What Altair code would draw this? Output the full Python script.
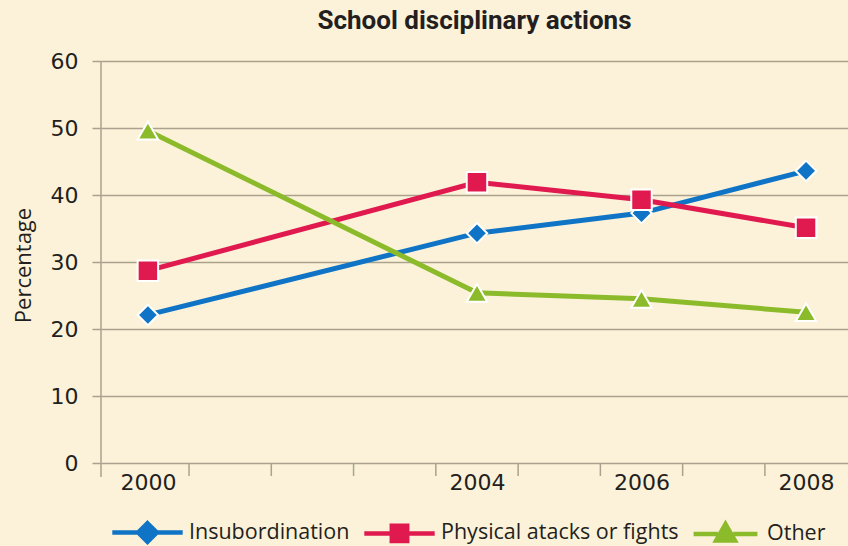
import altair as alt
import pandas as pd

# ---- data ----
years = [2000, 2004, 2006, 2008]
insubordination = [22.1, 34.3, 37.3, 43.6]
physical = [28.7, 41.9, 39.3, 35.1]
other = [49.6, 25.4, 24.5, 22.5]
series_names = ["Insubordination", "Physical atacks or fights", "Other"]
series_colors = ["#0f74c6", "#e01a4f", "#8bbb2a"]
series_shapes = ["diamond", "square", "triangle-up"]
y_tick_values = [0, 10, 20, 30, 40, 50, 60]
x_label_values = [2000, 2004, 2006, 2008]
x_tick_marks = [2000.5, 2001.5, 2002.5, 2003.5, 2004.5, 2005.5, 2006.5, 2007.5]

rows = []
for name, vals in zip(series_names, [insubordination, physical, other]):
    for yr, v in zip(years, vals):
        rows.append({"year": yr, "value": v, "series": name})
df = pd.DataFrame(rows)
ticks_df = pd.DataFrame({"year": x_tick_marks})
axis_df = pd.DataFrame({"year": [2000]})

W, H = 747, 402
BG = "#fcf2d9"
GRID = "#aaa28e"
TEXT = "#231f20"
FONT = "Open Sans"
NUMFONT = "DejaVu Sans"

xscale = alt.Scale(domain=[1999.43, 2008.51], nice=False, zero=False)
yscale = alt.Scale(domain=[0, 60], nice=False)

x_axis = alt.Axis(values=x_label_values, format="d", title=None, grid=False, domain=False,
                  ticks=False, tickSize=0, labelPadding=9, labelFontSize=22,
                  labelColor=TEXT, labelFont=NUMFONT)
y_axis = alt.Axis(values=y_tick_values, title="Percentage", grid=True, gridColor=GRID,
                  gridWidth=1.5, domain=False, tickSize=9, tickColor=GRID, tickWidth=1.5,
                  labelPadding=14, labelFontSize=22, labelColor=TEXT, labelFont=NUMFONT,
                  titleFontSize=22, titleFont=FONT, titleFontWeight="normal",
                  titleColor=TEXT, titleX=-66, titleY=H / 2 + 3)

x_enc = alt.X("year:Q", scale=xscale, axis=x_axis)
y_enc = alt.Y("value:Q", scale=yscale, axis=y_axis)

# legend symbols: a line through the marker
leg_diamond = "M-3.2,0L-0.8,0M0.8,0L3.2,0M0,-0.85L0.85,0L0,0.85L-0.85,0Z"
leg_square = "M-3.2,0L-0.7,0M0.7,0L3.2,0M-0.7,-0.7L0.7,-0.7L0.7,0.7L-0.7,0.7Z"
leg_triangle = "M-2.9,0L-0.7,0M0.7,0L2.9,0M0,-0.9L0.85,0.6L-0.85,0.6Z"
legend_paths = [leg_diamond, leg_square, leg_triangle]

color_scale = alt.Scale(domain=series_names, range=series_colors)
legend = alt.Legend(title=None, orient="none", direction="horizontal",
                    legendX=33, legendY=458, symbolSize=484, symbolStrokeWidth=4.5,
                    symbolOpacity=1, labelLimit=500,
                    labelFontSize=21.5, labelFont=FONT, labelColor=TEXT,
                    labelOffset=28, columnPadding=5, padding=0)

base = alt.Chart(df)

lines = base.mark_line(strokeWidth=5).encode(
    x=x_enc, y=y_enc,
    color=alt.Color("series:N", scale=color_scale, legend=None),
    detail="series:N",
)

points = base.mark_point(filled=True, size=420, stroke="white", strokeWidth=2, opacity=1).encode(
    x=x_enc, y=y_enc,
    color=alt.Color("series:N", scale=color_scale, legend=None),
    shape=alt.Shape("series:N", scale=alt.Scale(domain=series_names, range=series_shapes), legend=None),
)

legend_layer = base.transform_filter("false").mark_point(filled=True, strokeWidth=4.5).encode(
    fill=alt.Fill("series:N", scale=alt.Scale(domain=series_names, range=series_colors), legend=legend),
    stroke=alt.Stroke("series:N", scale=alt.Scale(domain=series_names, range=series_colors), legend=legend),
    shape=alt.Shape("series:N", scale=alt.Scale(domain=series_names, range=legend_paths), legend=legend),
)

tick_rules = alt.Chart(ticks_df).mark_rule(color=GRID, strokeWidth=1.5).encode(
    x=x_enc, y=alt.value(H), y2=alt.value(H + 13)
)

y_line = alt.Chart(axis_df).mark_rule(color=GRID, strokeWidth=1.5).encode(
    x=alt.value(0), y=alt.value(0), y2=alt.value(H + 14)
)

chart = alt.layer(tick_rules, y_line, lines, points, legend_layer).resolve_scale(
    shape="independent", fill="independent", stroke="independent"
).properties(
    width=W, height=H,
    title=alt.TitleParams("School disciplinary actions", fontSize=26, font="Roboto",
                          fontWeight="bold", color=TEXT, anchor="middle", offset=16),
    background=BG,
    padding={"left": 101, "top": 61, "right": 0, "bottom": 83},
    autosize=alt.AutoSizeParams(type="none"),
).configure_view(stroke=None)

chart.save("out.html", embed_options={"renderer": "svg", "actions": False})
